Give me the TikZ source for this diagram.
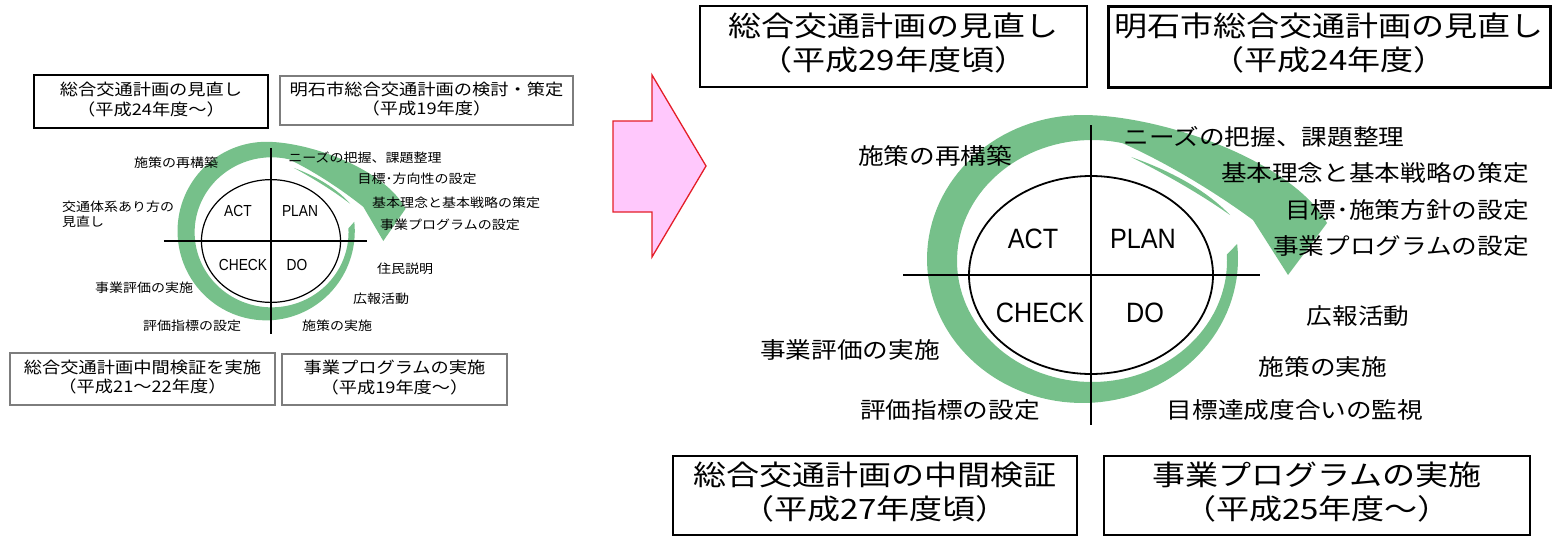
\documentclass[tikz,border=0pt]{standalone}
\usepackage{fontspec}
\usepackage{graphicx}
\newfontfamily\jp{Noto Sans CJK JP}
\newfontfamily\lat{Liberation Sans}
\definecolor{ringgreen}{RGB}{118,192,138}
\definecolor{pinkfill}{RGB}{255,200,252}
\definecolor{arrowred}{RGB}{228,30,40}
\definecolor{boxgray}{RGB}{125,125,125}
\newcommand{\hx}[2]{\scalebox{#1}[1]{#2}}
\newcommand{\twol}[2]{\begin{tabular}{@{}c@{}}#1\\#2\end{tabular}}
\newcommand{\ringshape}{%
  \fill[ringgreen] plot[domain=-6:270,samples=100] ({-8.5+155.5*cos(\x)},{-16+144*sin(\x)})
    .. controls (70,-160) and (200,-115) .. (236,-52)
    -- (197,0) -- (162,-55)
    .. controls (135,-75) and (85,-108) .. (31.4,-131.9)
    -- plot[domain=283:-3,samples=100] ({1+135*cos(\x)},{-14+121*sin(\x)}) -- cycle;
  \fill[ringgreen] (40,-118) .. controls (80,-104) and (115,-85) .. (139,-60)
    .. controls (112,-79) and (80,-98) .. (40,-118) -- cycle;
}
\newcommand{\pdcaoval}{plot[domain=0:360,samples=145] ({122*cos(\x)},{99*sin(\x)}) -- cycle}
\tikzset{
  rbox/.style={draw, line width=1.4pt, inner sep=0pt, font=\jp\fontsize{28}{32}\selectfont},
  lbox/.style={draw=boxgray, line width=1.1pt, inner sep=0pt, font=\jp\fontsize{16}{18}\selectfont},
  rlab/.style={inner sep=0pt, font=\jp\fontsize{22.5}{25}\selectfont},
  llab/.style={inner sep=0pt, font=\jp\fontsize{12.5}{15}\selectfont},
  rpdca/.style={inner sep=0pt, font=\lat\fontsize{28}{30}\selectfont},
  lpdca/.style={inner sep=0pt, font=\lat\fontsize{16}{18}\selectfont},
}
\begin{document}
\begin{tikzpicture}[x=1pt,y=-1pt]
\useasboundingbox (0,0) rectangle (1553,536);

% ---------- left cycle ----------
\begin{scope}[shift={(271,241)},xscale=0.57,yscale=0.62]
  \ringshape
  \draw[line width=1.2pt] \pdcaoval;
  \coordinate (lT) at (0,-150);
  \coordinate (lB) at (0,150);
  \coordinate (lL) at (-188,0);
  \coordinate (lR) at (169,0);
  \draw[line width=1.1pt] (lT) -- (lB);
  \draw[line width=1.1pt] (lL) -- (lR);
\end{scope}
\node[lpdca] (lact) at (238,211) {\hx{0.86}{ACT}};
\node[lpdca] (lplan) at (300,211) {\hx{0.86}{PLAN}};
\node[lpdca] (lcheck) at (243,265) {\hx{0.86}{CHECK}};
\node[lpdca] (ldo) at (297,265) {\hx{0.86}{DO}};

\node[lbox, line width=2.4pt, draw=black, minimum width=234, minimum height=53] (l1) at (151,101.5)
  {\hx{1.14}{\twol{総合交通計画の見直し}{（平成24年度～）}}};
\node[lbox, minimum width=293, minimum height=49] (l2) at (426.5,100.5)
  {\hx{1.14}{\twol{明石市総合交通計画の検討・策定}{（平成19年度）}}};
\node[lbox, minimum width=265, minimum height=52] (l3) at (142.5,379)
  {\hx{1.14}{\twol{総合交通計画中間検証を実施}{（平成21～22年度）}}};
\node[lbox, minimum width=225, minimum height=51] (l4) at (394.5,379.5)
  {\hx{1.14}{\twol{事業プログラムの実施}{（平成19年度～）}}};

\node[llab] (la) at (176,163) {\hx{1.12}{施策の再構築}};
\node[llab] (lb) at (365,158) {\hx{1.12}{ニーズの把握、課題整理}};
\node[llab] (lc) at (417,179) {\hx{1.12}{目標･方向性の設定}};
\node[llab] (ld) at (456,203) {\hx{1.12}{基本理念と基本戦略の策定}};
\node[llab] (le) at (450,225) {\hx{1.12}{事業プログラムの設定}};
\node[llab, anchor=west] (lf) at (62,216) {\hx{1.12}{\begin{tabular}{@{}l@{}}交通体系あり方の\\見直し\end{tabular}}};
\node[llab] (lg) at (405,269) {\hx{1.12}{住民説明}};
\node[llab] (lh) at (144,288) {\hx{1.12}{事業評価の実施}};
\node[llab] (li) at (381,299) {\hx{1.12}{広報活動}};
\node[llab] (lj) at (192,326) {\hx{1.12}{評価指標の設定}};
\node[llab] (lk) at (337,326) {\hx{1.12}{施策の実施}};

% ---------- big arrow ----------
\filldraw[fill=pinkfill, draw=arrowred, line width=1.3pt, line join=miter]
  (613,121) -- (652,121) -- (652,75) -- (706,166) -- (652,257) -- (652,212) -- (613,212) -- cycle;

% ---------- right cycle ----------
\begin{scope}[shift={(1091,275)}]
  \ringshape
  \draw[line width=1.8pt] \pdcaoval;
  \coordinate (rT) at (0,-150);
  \coordinate (rB) at (0,150);
  \coordinate (rL) at (-188,0);
  \coordinate (rR) at (169,0);
  \draw[line width=1.6pt] (rT) -- (rB);
  \draw[line width=1.6pt] (rL) -- (rR);
\end{scope}
\node[rpdca] (ract) at (1033,239) {\hx{0.9}{ACT}};
\node[rpdca] (rplan) at (1143,239) {\hx{0.9}{PLAN}};
\node[rpdca] (rcheck) at (1040,313) {\hx{0.9}{CHECK}};
\node[rpdca] (rdo) at (1145,313) {\hx{0.9}{DO}};

\node[rbox, minimum width=387, minimum height=81] (r1) at (893.5,46.5)
  {\hx{1.18}{\twol{総合交通計画の見直し}{（平成29年度頃）}}};
\node[rbox, line width=3pt, minimum width=442, minimum height=81] (r2) at (1329,46.5)
  {\hx{1.18}{\twol{明石市総合交通計画の見直し}{（平成24年度）}}};
\node[rbox, minimum width=404, minimum height=79] (r3) at (875,495.5)
  {\hx{1.18}{\twol{総合交通計画の中間検証}{（平成27年度頃）}}};
\node[rbox, minimum width=426, minimum height=79] (r4) at (1317,495.5)
  {\hx{1.18}{\twol{事業プログラムの実施}{（平成25年度～）}}};

\node[rlab] (ra) at (935,156) {\hx{1.14}{施策の再構築}};
\node[rlab] (rb) at (1264,137) {\hx{1.14}{ニーズの把握、課題整理}};
\node[rlab, anchor=east] (rc) at (1529,173) {\hx{1.14}{基本理念と基本戦略の策定}};
\node[rlab, anchor=east] (rd) at (1529,210) {\hx{1.14}{目標･施策方針の設定}};
\node[rlab, anchor=east] (re) at (1529,246) {\hx{1.14}{事業プログラムの設定}};
\node[rlab] (rf) at (1358,316) {\hx{1.14}{広報活動}};
\node[rlab] (rg) at (1323,367) {\hx{1.14}{施策の実施}};
\node[rlab] (rh) at (1295,410) {\hx{1.14}{目標達成度合いの監視}};
\node[rlab] (ri) at (850,350) {\hx{1.14}{事業評価の実施}};
\node[rlab] (rj) at (950,410) {\hx{1.14}{評価指標の設定}};
\end{tikzpicture}
\end{document}
